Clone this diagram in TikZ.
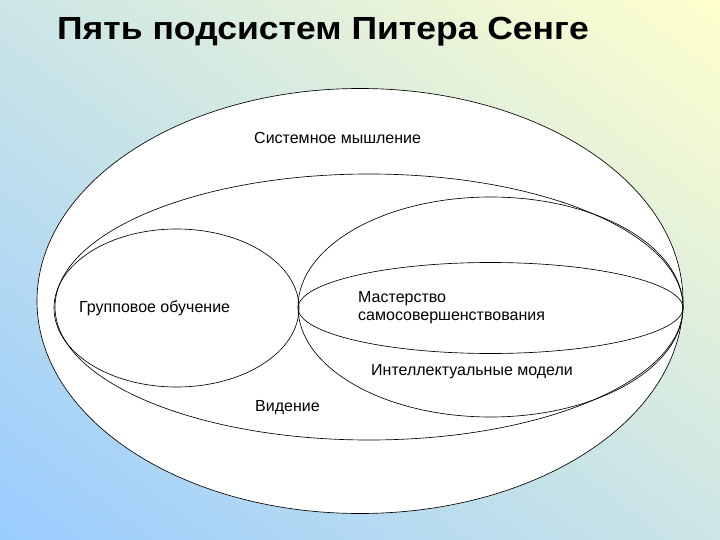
\documentclass[tikz,border=0pt]{standalone}
\usepackage{fontspec}
\setmainfont{Liberation Sans}
\newfontfamily\titlefont[FakeStretch=1.11]{Liberation Sans}
\usetikzlibrary{shadings}
\definecolor{bgblue}{HTML}{99CCFF}
\definecolor{bgyellow}{HTML}{FFFFCC}
\definecolor{bgmid}{HTML}{CCE5E6}
\tikzset{
  ring/.style={draw=black, line width=0.65pt},
  lbl/.style={anchor=base west, inner sep=0pt, font=\fontsize{16}{18.5}\selectfont}
}

\begin{document}
\begin{tikzpicture}[x=1pt,y=-1pt]
  \useasboundingbox (0,0) rectangle (720,540);
  \shade [upper left=bgmid, upper right=bgyellow, lower left=bgblue, lower right=bgmid]
    (0,0) rectangle (720,540);
  \node[anchor=base west, inner sep=0pt, font=\titlefont\bfseries\fontsize{32}{36}\selectfont]
    (title) at (57,40) {Пять подсистем Питера Сенге};
  \fill [white] (360,301) ellipse [x radius=323, y radius=212.5];
  \draw [ring] (360,301) ellipse [x radius=323, y radius=212.5];
  \draw [ring] (369,307) ellipse [x radius=314, y radius=133];
  \draw [ring] (176.5,308) ellipse [x radius=122.5, y radius=79];
  \draw [ring] (490.5,307) ellipse [x radius=192.5, y radius=110];
  \draw [ring] (490.5,308) ellipse [x radius=192.5, y radius=45.5];
  \node[lbl] (sys) at (254,144) {Системное мышление};
  \node[lbl] (group) at (79,312.5) {Групповое обучение};
  \node[lbl, align=left, anchor=north west] (mastery) at (358,291.5)
    {Мастерство\\[-1pt]самосовершенствования};
  \node[lbl] (models) at (371,375) {Интеллектуальные модели};
  \node[lbl] (vision) at (255,411) {Видение};
\end{tikzpicture}
\end{document}
